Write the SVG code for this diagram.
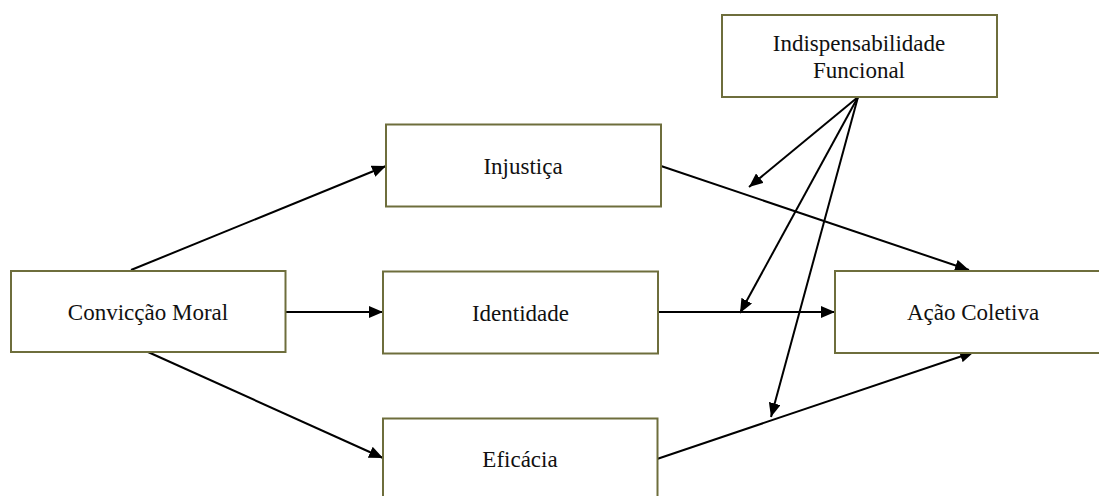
<svg xmlns="http://www.w3.org/2000/svg" width="1099" height="496" viewBox="0 0 1099 496">
<style>
.box{fill:#fff;stroke:#6e6e3c;stroke-width:2}
.lbl{font-family:"Liberation Serif","Times New Roman",serif;font-size:23px;fill:#111;text-anchor:middle}
.con{stroke:#000;stroke-width:2;fill:none;marker-end:url(#ah)}
.plain{stroke:#000;stroke-width:2;fill:none}
</style>
<defs>
<marker id="ah" markerUnits="userSpaceOnUse" markerWidth="14" markerHeight="12" refX="14" refY="6" orient="auto">
<path d="M0,0 L14,6 L0,12 z" fill="#000"/>
</marker>
</defs>
<rect width="1099" height="496" fill="#fff"/>
<g id="connectors">
<line class="con" x1="131" y1="270" x2="386" y2="166"/>
<line class="con" x1="286" y1="312" x2="383" y2="312"/>
<line class="con" x1="148" y1="352" x2="383" y2="458"/>
<line class="con" x1="661" y1="166" x2="969" y2="270"/>
<line class="con" x1="658" y1="312" x2="835" y2="312"/>
<line class="con" x1="657" y1="459" x2="974" y2="352"/>
<line class="con" x1="858" y1="97" x2="749" y2="187"/>
<line class="con" x1="858" y1="97" x2="740" y2="313"/>
<line class="con" x1="858" y1="97" x2="771" y2="417"/>
</g>
<g id="n-conviccao">
<rect class="box" x="11" y="271" width="274.5" height="81"/>
<text class="lbl" x="148" y="320">Convicção Moral</text>
</g>
<g id="n-injustica">
<rect class="box" x="386" y="124.5" width="275" height="82"/>
<text class="lbl" x="523" y="174">Injustiça</text>
</g>
<g id="n-identidade">
<rect class="box" x="383" y="271.5" width="275" height="82"/>
<text class="lbl" x="520.5" y="321">Identidade</text>
</g>
<g id="n-eficacia">
<rect class="box" x="383" y="418.5" width="274.5" height="90"/>
<text class="lbl" x="520" y="467">Eficácia</text>
</g>
<g id="n-acao">
<rect class="box" x="835" y="271" width="280" height="82"/>
<text class="lbl" x="973" y="320">Ação Coletiva</text>
</g>
<g id="n-indisp">
<rect class="box" x="722" y="15" width="275" height="82"/>
<text class="lbl" x="859" y="51">Indispensabilidade</text>
<text class="lbl" x="859" y="78">Funcional</text>
</g>
</svg>
